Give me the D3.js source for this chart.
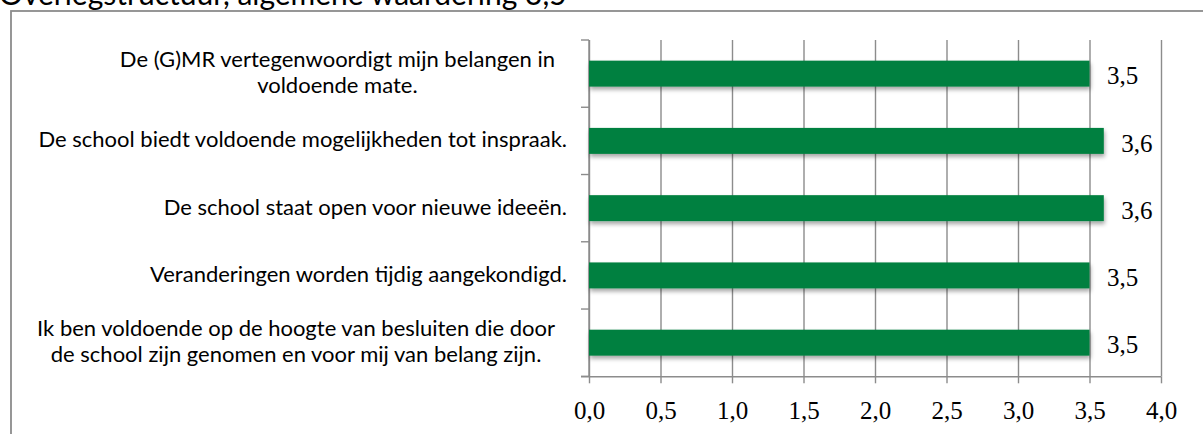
<!DOCTYPE html>
<html>
<head>
<meta charset="utf-8">
<script src="https://cdn.jsdelivr.net/npm/d3@7"></script>
<style>
  body { margin: 0; background: #fff; overflow: hidden; }
  svg { display: block; }
</style>
</head>
<body>
<script>

// chart data
var title = "Overlegstructuur, algemene waardering 3,5";
var categories = [
  "De (G)MR vertegenwoordigt mijn belangen in\nvoldoende mate.",
  "De school biedt voldoende mogelijkheden tot inspraak.",
  "De school staat open voor nieuwe ideeën.",
  "Veranderingen worden tijdig aangekondigd.",
  "Ik ben voldoende op de hoogte van besluiten die door\nde school zijn genomen en voor mij van belang zijn."
];
var values = [3.5, 3.6, 3.6, 3.5, 3.5];
var tickValues = [0, 0.5, 1, 1.5, 2, 2.5, 3, 3.5, 4];

var width = 1203, height = 434;
var margin = {top: 40, right: 42, bottom: 57.7, left: 589};
var plotW = width - margin.left - margin.right,
    plotH = height - margin.top - margin.bottom;

var gridColor = "#8c8c8c",
    barColor = "#00803f";

// comma decimals, like the original
var fmt = function(d) { return d3.format(".1f")(d).replace(".", ","); };

var svg = d3.select("body").append("svg")
    .attr("width", width)
    .attr("height", height);

// soft shadow under the bars
var filter = svg.append("defs").append("filter")
    .attr("id", "shadow")
    .attr("x", "-5%").attr("y", "-40%")
    .attr("width", "110%").attr("height", "190%");
filter.append("feDropShadow")
    .attr("dx", 1).attr("dy", 3)
    .attr("stdDeviation", 2)
    .attr("flood-color", "#000")
    .attr("flood-opacity", 0.35);

// chart frame (runs off the right and bottom of the picture)
svg.append("rect")
    .attr("x", 11).attr("y", 11)
    .attr("width", width).attr("height", height)
    .attr("fill", "none")
    .attr("stroke", gridColor)
    .attr("stroke-width", 1.8);

// title, mostly cut off at the top
svg.append("text")
    .attr("x", -1).attr("y", 5)
    .style("font-family", "Lato, 'Open Sans', sans-serif")
    .style("font-size", "30px")
    .attr("fill", "#000")
    .text(title);

var x = d3.scaleLinear()
    .domain([0, 4])
    .range([margin.left, margin.left + plotW]);

var y = d3.scaleBand()
    .domain(categories)
    .range([margin.top, margin.top + plotH]);

var barH = y.bandwidth() * 0.386;

// vertical gridlines
var grid = svg.append("g")
    .attr("transform", "translate(0," + (margin.top + plotH) + ")")
    .call(d3.axisBottom(x)
      .tickValues(tickValues)
      .tickSize(-plotH)
      .tickFormat(""));
grid.select(".domain").remove();
grid.selectAll("line")
    .attr("stroke", gridColor)
    .attr("stroke-width", 1.4);

// x axis with ticks and labels
var xAxis = svg.append("g")
    .attr("transform", "translate(0," + (margin.top + plotH) + ")")
    .call(d3.axisBottom(x)
      .tickValues(tickValues)
      .tickSize(7)
      .tickSizeOuter(0)
      .tickFormat(fmt));
xAxis.select(".domain")
    .attr("stroke", gridColor)
    .attr("stroke-width", 1.4)
    .attr("d", "M" + (margin.left - 8) + ",0.5H" + (margin.left + plotW));
xAxis.selectAll(".tick line")
    .attr("stroke", gridColor)
    .attr("stroke-width", 1.4);
xAxis.selectAll(".tick text")
    .attr("y", 43)
    .attr("dy", null)
    .attr("fill", "#000")
    .style("font-family", "'Liberation Serif', 'DejaVu Serif', serif")
    .style("font-size", "25px");

// y axis line and category boundary ticks
svg.append("line")
    .attr("x1", margin.left).attr("x2", margin.left)
    .attr("y1", margin.top).attr("y2", margin.top + plotH)
    .attr("stroke", gridColor)
    .attr("stroke-width", 1.4);

var bounds = categories.map(function(c) { return y(c); }).concat([margin.top + plotH]);
svg.append("g").selectAll("line")
    .data(bounds)
  .enter().append("line")
    .attr("x1", margin.left - 8).attr("x2", margin.left)
    .attr("y1", function(d) { return d; })
    .attr("y2", function(d) { return d; })
    .attr("stroke", gridColor)
    .attr("stroke-width", 1.4);

// bars
svg.append("g").selectAll("rect")
    .data(values)
  .enter().append("rect")
    .attr("x", x(0))
    .attr("y", function(d, i) { return y(categories[i]) + (y.bandwidth() - barH) / 2; })
    .attr("width", function(d) { return x(d) - x(0); })
    .attr("height", barH)
    .attr("fill", barColor)
    .attr("filter", "url(#shadow)");

// value labels
svg.append("g").selectAll("text")
    .data(values)
  .enter().append("text")
    .attr("x", function(d) { return x(d) + 17.5; })
    .attr("y", function(d, i) { return y(categories[i]) + y.bandwidth() / 2 + 10.7; })
    .attr("fill", "#000")
    .style("font-family", "'Liberation Serif', 'DejaVu Serif', serif")
    .style("font-size", "25px")
    .text(fmt);

// category labels: block right aligned, wrapped lines centred in it
var labelRight = 567, lineH = 25.5;
categories.forEach(function(c) {
  var lines = c.split("\n");
  var cy = y(c) + y.bandwidth() / 2;
  var t = svg.append("text")
      .attr("fill", "#000")
      .attr("text-anchor", "middle")
      .style("font-family", "Lato, 'Open Sans', sans-serif")
      .style("font-size", "22px");
  var spans = lines.map(function(l, i) {
    return t.append("tspan")
        .attr("y", cy + 6.5 + (i - (lines.length - 1) / 2) * lineH)
        .text(l);
  });
  var maxW = d3.max(spans, function(s) { return s.node().getComputedTextLength(); });
  var right = lines.length > 1 ? labelRight - 12 : labelRight;
  spans.forEach(function(s) { s.attr("x", right - maxW / 2); });
});

</script>
</body>
</html>
